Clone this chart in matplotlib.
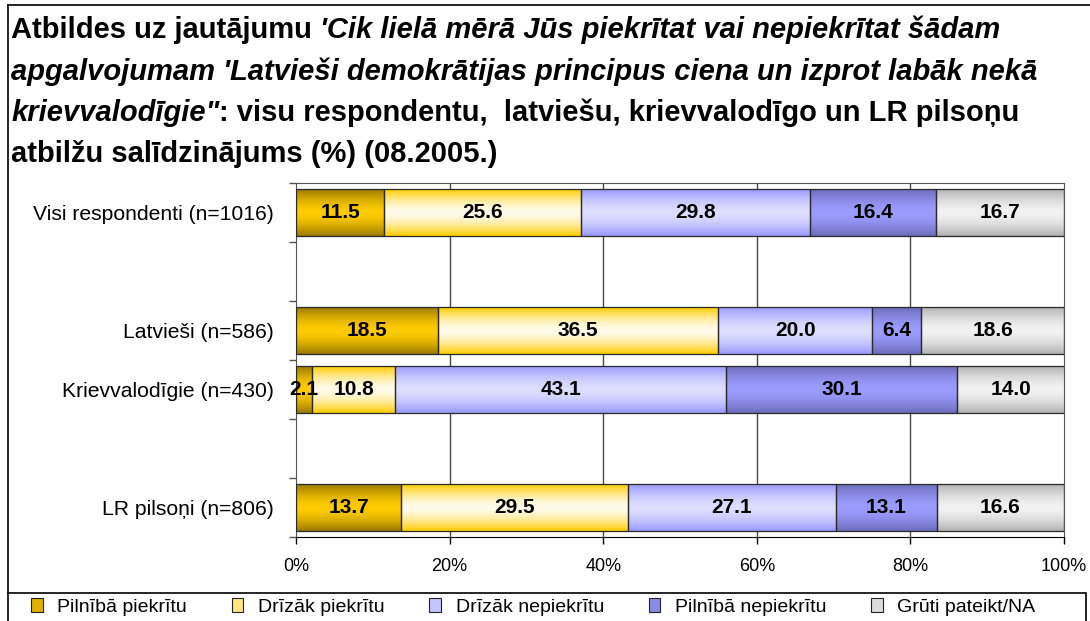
import numpy as np
import matplotlib
matplotlib.use("Agg")
import matplotlib.pyplot as plt
from matplotlib.colors import to_rgb
from matplotlib.patches import Rectangle, Patch
from matplotlib.lines import Line2D

plt.rcParams['font.family'] = ['Liberation Sans', 'DejaVu Sans']

# --- data ---
groups = ["Visi respondenti (n=1016)", "Latvieši (n=586)",
          "Krievvalodīgie (n=430)", "LR pilsoņi (n=806)"]
answers = ["Pilnībā piekrītu", "Drīzāk piekrītu", "Drīzāk nepiekrītu",
           "Pilnībā nepiekrītu", "Grūti pateikt/NA"]
pilniba_piekritu = [11.5, 18.5, 2.1, 13.7]
drizak_piekritu = [25.6, 36.5, 10.8, 29.5]
drizak_nepiekritu = [29.8, 20.0, 43.1, 27.1]
pilniba_nepiekritu = [16.4, 6.4, 30.1, 13.1]
gruti_pateikt = [16.7, 18.6, 14.0, 16.6]
x_ticks = [0, 20, 40, 60, 80, 100]

series = [pilniba_piekritu, drizak_piekritu, drizak_nepiekritu,
          pilniba_nepiekritu, gruti_pateikt]

# layout: rows used in a 6-slot category axis (two slots left empty)
row_slots = np.array([0, 2, 3, 5])
n_slots = 6
# (edge colour, centre colour) of the gradient fill for each answer
fills = [("#9a7a00", "#ffcc00"),
         ("#ffcc00", "#fffbea"),
         ("#9999ff", "#dedeff"),
         ("#6c6cba", "#9c9cff"),
         ("#b2b2b2", "#f2f2f2")]
legend_colors = ["#e0b000", "#ffe680", "#c4c4ff", "#8a8ae8", "#dcdcdc"]


def gradient(edge, centre, n=64):
    t = np.linspace(0, 1, n)
    w = np.abs(2 * t - 1) ** 1.6
    e, c = np.array(to_rgb(edge)), np.array(to_rgb(centre))
    return (c[None, :] * (1 - w[:, None]) + e[None, :] * w[:, None])[:, None, :]


fig = plt.figure(figsize=(10.9, 6.21), dpi=100)
W, H = 1090, 621
ax = fig.add_axes([296 / W, 1 - 537 / H, (1064 - 296) / W, (537 - 183) / H])

left = np.zeros(len(groups))
for vals, (edge, centre) in zip(series, fills):
    vals = np.array(vals)
    cont = ax.barh(row_slots, vals, left=left, height=0.78,
                   facecolor="none", edgecolor="#2a2a2a", linewidth=0.9, zorder=3)
    img = gradient(edge, centre)
    for p in cont.patches:
        x0, y0 = p.get_x(), p.get_y()
        ax.imshow(img, extent=(x0, x0 + p.get_width(), y0 + p.get_height(), y0),
                  aspect="auto", interpolation="bilinear", zorder=2)
    ax.bar_label(cont, labels=[f"{v:.1f}" for v in vals], label_type="center",
                 fontsize=15, fontweight="bold", zorder=4)
    left += vals

ax.set_xlim(0, 100)
ax.set_ylim(n_slots - 0.5, -0.5)
ax.set_aspect("auto")

for s in ["top", "right", "left"]:
    ax.spines[s].set_color("#555555")
ax.spines["bottom"].set_color("black")

ax.set_xticks(x_ticks)
ax.set_xticklabels([f"{t}%" for t in x_ticks], fontsize=13)
ax.tick_params(axis="x", length=5, width=1, pad=10, color="black")
ax.set_yticks(row_slots)
ax.set_yticklabels(groups, fontsize=15.2)
ax.set_yticks(np.arange(-0.5, n_slots, 1), minor=True)
ax.tick_params(axis="y", which="major", length=0, pad=16)
ax.tick_params(axis="y", which="minor", length=5, width=1, color="#555555")

for x in x_ticks[1:-1]:
    ax.axvline(x, color="#4a4a4a", linewidth=1, zorder=1)

# outer chart frame (left and top edges) and legend box
fig.add_artist(Line2D([8 / W, 8 / W], [1 - 593 / H, 1 - 5 / H], color="black", lw=1.2))
fig.add_artist(Line2D([8 / W, 1], [1 - 5 / H, 1 - 5 / H], color="black", lw=1.2))
fig.add_artist(Rectangle((8 / W, -0.02), (1086 - 8) / W, (621 - 593) / H + 0.02,
                         transform=fig.transFigure, facecolor="white",
                         edgecolor="black", lw=1.2))

handles = [Patch(facecolor=c, edgecolor="#222222", lw=0.8) for c in legend_colors]
fig.legend(handles, answers, loc="center left", bbox_to_anchor=(31 / W, 1 - 607 / H),
           ncol=5, frameon=False, fontsize=14, handlelength=0.6, handleheight=0.75,
           handletextpad=0.75, columnspacing=2.3, borderpad=0, borderaxespad=0)

# title with mixed bold / bold-italic runs
title_lines = [
    [("Atbildes uz jautājumu ", "normal"),
     ("'Cik lielā mērā Jūs piekrītat vai nepiekrītat šādam", "italic")],
    [("apgalvojumam 'Latvieši demokrātijas principus ciena un izprot labāk nekā", "italic")],
    [("krievvalodīgie\"", "italic"),
     (": visu respondentu,  latviešu, krievvalodīgo un LR pilsoņu", "normal")],
    [("atbilžu salīdzinājums (%) (08.2005.)", "normal")],
]
baselines = [38, 80, 121, 162]
fig.canvas.draw()
renderer = fig.canvas.get_renderer()
for runs, base in zip(title_lines, baselines):
    x = 11
    for txt, style in runs:
        t = fig.text(x / W, 1 - base / H, txt, fontsize=21, fontweight="bold",
                     fontstyle=style, va="baseline", ha="left")
        bb = t.get_window_extent(renderer)
        x = bb.x1

fig.savefig("out.png", dpi=100)
